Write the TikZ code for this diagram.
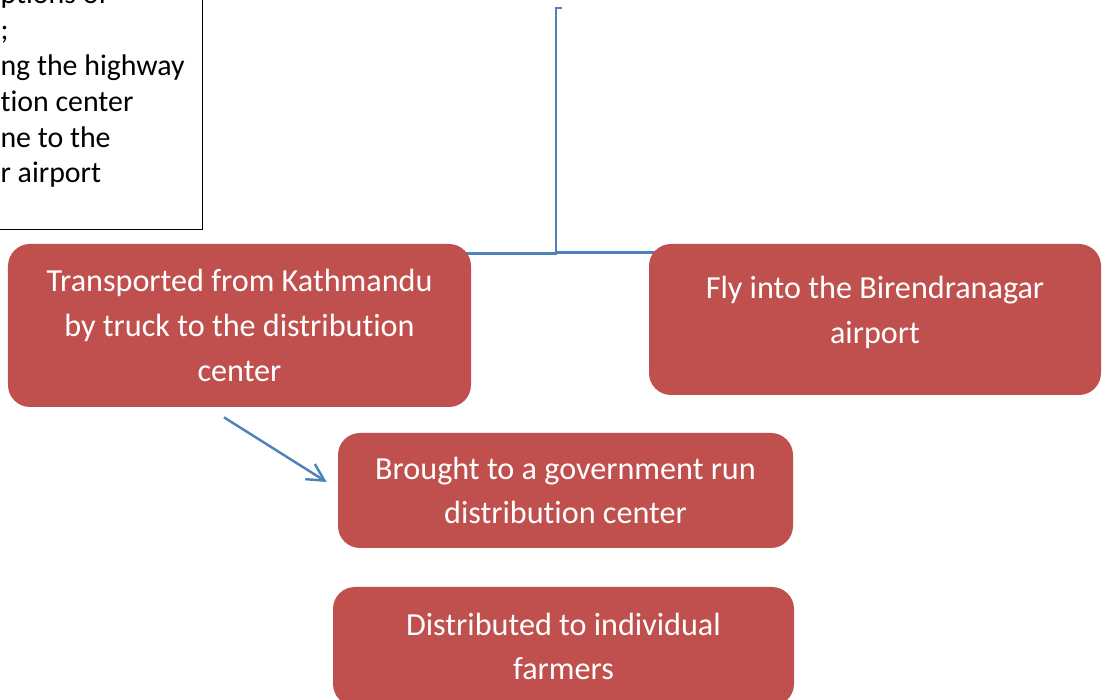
\documentclass[tikz,border=0pt]{standalone}
\usepackage{fontspec}
\setmainfont{Carlito}[Ligatures=NoCommon]
\usetikzlibrary{arrows.meta,backgrounds}
\definecolor{boxred}{HTML}{C0504D}
\definecolor{linkblue}{HTML}{4F81BD}
\begin{document}
\begin{tikzpicture}[
  stage/.style={rectangle, rounded corners=0.44cm, fill=boxred, text=white,
    align=center, inner sep=0pt, font=\fontsize{18.3}{25.5}\selectfont},
  link/.style={linkblue, line width=1.4pt},
]
  \useasboundingbox (0,0) rectangle (22.04,14);
  \clip (0,0) rectangle (22.04,14);
  % note box, cut by the page edge
  \node[draw, line width=0.6pt, anchor=south west, align=flush left, text width=3.74cm,
    inner xsep=0.3cm, inner ysep=0pt, minimum height=5.76cm,
    font=\fontsize{17}{20.4}\selectfont] (note) at (-0.3,9.4)
    {ptions of\\;\\ng the highway\\tion center\\ne to the\\r airport};
  \node[stage, minimum width=9.26cm, minimum height=3.26cm] (truck) at (4.79,7.49)
    {Transported from Kathmandu\\by truck to the distribution\\center};
  \node[stage, minimum width=9.04cm, minimum height=3.02cm] (fly) at (17.5,7.61)
    {Fly into the Birendranagar\\airport\rule[-0.4cm]{0pt}{0pt}};
  \node[stage, minimum width=9.1cm, minimum height=2.3cm] (depot) at (11.31,4.19)
    {Brought to a government run\\distribution center};
  \node[stage, minimum width=9.22cm, minimum height=2.38cm] (farmers) at (11.27,1.07)
    {Distributed to individual\\farmers};
  \coordinate (top) at (11.12,13.84);
  \coordinate (hook) at (11.24,13.84);
  \begin{scope}[on background layer]
    \draw[link] (hook) -- (top) |- ([xshift=-0.2cm,yshift=-0.2cm]truck.north east);
    \draw[link] (top) |- ([xshift=0.2cm,yshift=-0.18cm]fly.north west);
  \end{scope}
  \draw[link, -{Straight Barb[length=3.4mm,width=3.6mm]}]
    ([xshift=-0.31cm,yshift=-0.2cm]truck.south) -- ([xshift=-0.22cm,yshift=0.17cm]depot.west);
\end{tikzpicture}
\end{document}
